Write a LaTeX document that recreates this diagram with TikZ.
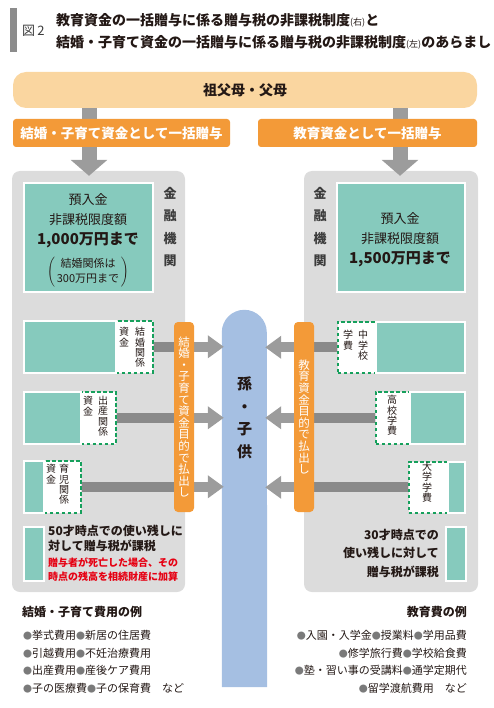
\documentclass[tikz,border=0pt]{standalone}
\usepackage{fontspec}
\setmainfont{Noto Sans CJK JP}
\usetikzlibrary{arrows.meta}
\definecolor{inkc}{HTML}{231815}
\definecolor{pillc}{HTML}{FAD6A0}
\definecolor{orangec}{HTML}{F39A38}
\definecolor{panelc}{HTML}{DCDCDC}
\definecolor{tealc}{HTML}{86CABD}
\definecolor{dashc}{HTML}{16A05C}
\definecolor{kidc}{HTML}{A5BFE2}
\definecolor{arrowc}{HTML}{9C9C9C}
\definecolor{arrowdk}{HTML}{8A8A8A}
\definecolor{barc}{HTML}{8C8C8C}
\definecolor{redc}{HTML}{E60012}
\definecolor{bankc}{HTML}{3C3C3C}
\definecolor{bulc}{HTML}{7A7A7A}
\newcommand\itemdot{{\color{bulc}\fontsize{9}{9}\selectfont●}}
\pgfdeclarelayer{back}\pgfdeclarelayer{mid}\pgfsetlayers{back,mid,main}
\begin{document}
\begin{tikzpicture}[x=1pt,y=-1pt,
  every node/.style={inner sep=0pt,text=inkc},
  pill/.style={fill=pillc,rounded corners=13pt},
  gift/.style={fill=orangec,rounded corners=3pt,text=white,font=\bfseries\fontsize{13.5}{14}\selectfont},
  panel/.style={fill=panelc,rounded corners=8pt},
  fund/.style={fill=tealc,draw=white,line width=2pt},
  usebox/.style={fill=white,draw=dashc,line width=1.6pt,dash pattern=on 3.5pt off 2.5pt,anchor=north west},
  vtxt/.style={align=center,anchor=north,font=\fontsize{10}{10.4}\selectfont},
  paybar/.style={fill=orangec,rounded corners=4pt,minimum width=20pt,minimum height=190pt,text=white,align=center,font=\fontsize{11.5}{11.6}\selectfont},
  shaftin/.style={draw=arrowdk,line width=10pt},
  flow/.style={draw=arrowc,line width=10pt,-{Triangle[length=16pt,width=22pt]}},
  drop/.style={draw=arrowc,line width=15pt,-{Triangle[length=16pt,width=36pt]}}]
\useasboundingbox (0,0) rectangle (493,708);
\fill[barc] (10,8) rectangle (17,52);
\node[anchor=west,text=bankc,font=\fontsize{13}{13}\selectfont] (fig) at (22,31) {図\,2};
\node[anchor=west,font=\bfseries\fontsize{14}{14}\selectfont] (title1) at (56,20) {教育資金の一括贈与に係る贈与税の非課税制度{\mdseries\fontsize{9}{9}\selectfont(右)}と};
\node[anchor=west,font=\bfseries\fontsize{14}{14}\selectfont] (title2) at (56,42) {結婚・子育て資金の一括贈与に係る贈与税の非課税制度{\mdseries\fontsize{9}{9}\selectfont(左)}のあらまし};

\node[pill,minimum width=464pt,minimum height=36pt,font=\bfseries\fontsize{14}{14}\selectfont] (elders) at (245,90) {祖父母・父母};
\node[gift,minimum width=217pt,minimum height=28pt] (giftL) at (121.5,133) {結婚・子育て資金として一括贈与};
\node[gift,minimum width=219pt,minimum height=28pt] (giftR) at (367.5,133) {教育資金として一括贈与};

\begin{pgfonlayer}{back}
\node[panel,minimum width=173pt,minimum height=421pt] (bankL) at (98.5,381.5) {};
\node[panel,minimum width=174pt,minimum height=421pt] (bankR) at (391,381.5) {};
\end{pgfonlayer}
\node[minimum width=45pt,minimum height=377pt] (kids) at (244.5,498.5) {};
\begin{pgfonlayer}{back}
\fill[kidc] (kids.south west) -- ([yshift=-22.5pt]kids.north west) arc[start angle=180,end angle=0,radius=22.5pt] -- (kids.south east) -- cycle;
\end{pgfonlayer}
\node[align=center,font=\bfseries\fontsize{15}{22.5}\selectfont] (kidsname) at (244.5,418) {孫\\・\\子\\供};

\node[align=center,text=bankc,font=\bfseries\fontsize{13}{22.5}\selectfont] (bankLname) at (170,227) {金\\融\\機\\関};
\node[align=center,text=bankc,font=\bfseries\fontsize{13}{22.5}\selectfont] (bankRname) at (320,227) {金\\融\\機\\関};

\node[fund,minimum width=129pt,minimum height=109pt,anchor=north west] (depL) at (23,182) {};
\node[align=center,font=\fontsize{13}{20}\selectfont] (depLtxt) at (88,221) {預入金\\非課税限度額\\{\bfseries\fontsize{15}{20}\selectfont 1,000万円まで}};
\node[font=\fontsize{11}{15.5}\selectfont] (capL) at (88,272) {$\left(\,\begin{tabular}{@{}c@{}}結婚関係は\\300万円まで\end{tabular}\,\right)$};
\node[fund,minimum width=128pt,minimum height=109pt,anchor=north west] (depR) at (336,182) {};
\node[align=center,font=\fontsize{13}{20}\selectfont] (depRtxt) at (400,240) {預入金\\非課税限度額\\{\bfseries\fontsize{15}{20}\selectfont 1,500万円まで}};

\node[usebox,minimum width=37pt,minimum height=52pt] (u1) at (115,320) {};
\node[fund,minimum width=92pt,minimum height=52pt,anchor=north west] (f1) at (23,320) {};
\node[vtxt] (u1a) at (124,327) {資\\金};
\node[vtxt] (u1b) at (140,327) {結\\婚\\関\\係};
\node[usebox,minimum width=35pt,minimum height=52pt] (u2) at (80,391) {};
\node[fund,minimum width=57pt,minimum height=52pt,anchor=north west] (f2) at (23,391) {};
\node[vtxt] (u2a) at (88,396) {資\\金};
\node[vtxt] (u2b) at (103,396) {出\\産\\関\\係};
\node[usebox,minimum width=37pt,minimum height=52pt] (u3) at (43,460) {};
\node[fund,minimum width=20pt,minimum height=52pt,anchor=north west] (f3) at (23,460) {};
\node[vtxt] (u3a) at (51,464) {資\\金};
\node[vtxt] (u3b) at (64,464) {育\\児\\関\\係};

\node[usebox,minimum width=38pt,minimum height=51pt] (v1) at (337,321) {};
\node[fund,minimum width=89pt,minimum height=51pt,anchor=north west] (g1) at (375,321) {};
\node[vtxt] (v1a) at (348,330) {学\\費};
\node[vtxt] (v1b) at (363,330) {中\\学\\校};
\node[usebox,minimum width=34pt,minimum height=52pt] (v2) at (375,391) {};
\node[fund,minimum width=55pt,minimum height=52pt,anchor=north west] (g2) at (409,391) {};
\node[vtxt] (v2a) at (392,395) {高\\校\\学\\費};
\node[usebox,minimum width=39pt,minimum height=51pt] (v3) at (408,461) {};
\node[fund,minimum width=17pt,minimum height=51pt,anchor=north west] (g3) at (447,461) {};
\node[vtxt] (v3a) at (427,462) {大\\学\\学\\費};

\node[paybar] (payL) at (184,417) {結\\婚\\・\\子\\育\\て\\資\\金\\目\\的\\で\\払\\出\\し};
\node[paybar] (payR) at (304,417) {教\\育\\資\\金\\目\\的\\で\\払\\出\\し};

\begin{pgfonlayer}{mid}
\coordinate (dL) at (89,0);
\coordinate (dR) at (400,0);
\draw[drop,shorten >=-5pt] (elders.south -| dL) -- (bankL.north -| dL);
\draw[drop,shorten >=-5pt] (elders.south -| dR) -- (bankR.north -| dR);
\draw[shaftin] (u1.east) -- (payL.center |- u1.east);
\draw[shaftin] (u2.east) -- (payL.center |- u2.east);
\draw[shaftin] (u3.east) -- (payL.center |- u3.east);
\draw[flow,shorten >=-2pt] (payL.center |- u1.east) -- (kids.west |- u1.east);
\draw[flow,shorten >=-2pt] (payL.center |- u2.east) -- (kids.west |- u2.east);
\draw[flow,shorten >=-2pt] (payL.center |- u3.east) -- (kids.west |- u3.east);
\draw[shaftin] (v1.west) -- (payR.center |- v1.west);
\draw[shaftin] (v2.west) -- (payR.center |- v2.west);
\draw[shaftin] (v3.west) -- (payR.center |- v3.west);
\draw[flow,shorten >=-2pt] (payR.center |- v1.west) -- (kids.east |- v1.west);
\draw[flow,shorten >=-2pt] (payR.center |- v2.west) -- (kids.east |- v2.west);
\draw[flow,shorten >=-2pt] (payR.center |- v3.west) -- (kids.east |- v3.west);
\end{pgfonlayer}

\node[fund,minimum width=20pt,minimum height=54pt,anchor=north west] (restL) at (23,526) {};
\node[anchor=north west,align=left,font=\bfseries\fontsize{12}{15}\selectfont] (taxL) at (48,525) {50才時点での使い残しに\\対して贈与税が課税};
\node[anchor=north west,align=left,text=redc,font=\bfseries\fontsize{10}{14}\selectfont] (heirL) at (48,558) {贈与者が死亡した場合、その\\時点の残高を相続財産に加算};
\node[fund,minimum width=20pt,minimum height=54pt,anchor=north west] (restR) at (445,526) {};
\node[anchor=north east,align=right,font=\bfseries\fontsize{12}{18.5}\selectfont] (taxR) at (439,529) {30才時点での\\使い残しに対して\\贈与税が課税};

\node[anchor=north west,font=\bfseries\fontsize{12}{12}\selectfont] (exL) at (22,606) {結婚・子育て費用の例};
\node[anchor=north west,align=left,font=\fontsize{11}{17.7}\selectfont] (exLitems) at (23,630) {\itemdot 挙式費用\itemdot 新居の住居費\\\itemdot 引越費用\itemdot 不妊治療費用\\\itemdot 出産費用\itemdot 産後ケア費用\\\itemdot 子の医療費\itemdot 子の保育費　など};
\node[anchor=north east,font=\bfseries\fontsize{12}{12}\selectfont] (exR) at (467,606) {教育費の例};
\node[anchor=north east,align=right,font=\fontsize{11}{17.7}\selectfont] (exRitems) at (467,630) {\itemdot 入園・入学金\itemdot 授業料\itemdot 学用品費\\\itemdot 修学旅行費\itemdot 学校給食費\\\itemdot 塾・習い事の受講料\itemdot 通学定期代\\\itemdot 留学渡航費用　など};
\end{tikzpicture}
\end{document}
